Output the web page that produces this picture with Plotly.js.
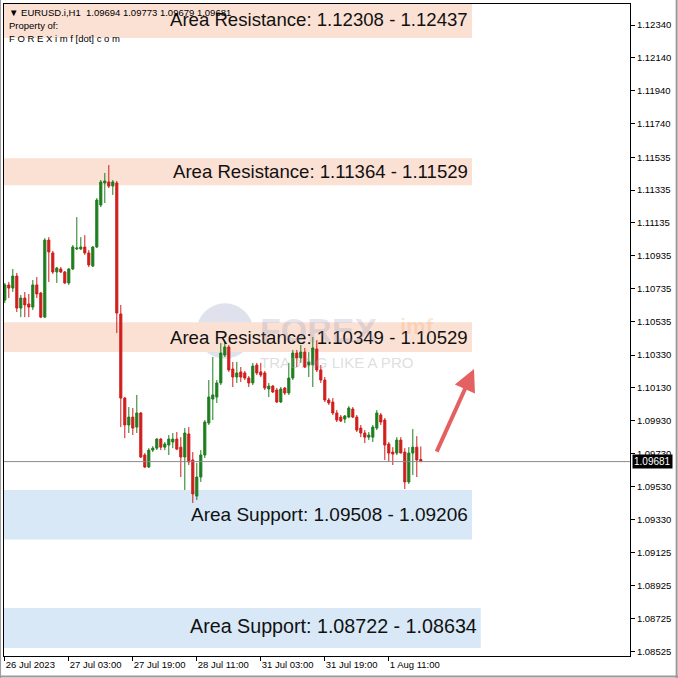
<!DOCTYPE html>
<html>
<head>
<meta charset="utf-8">
<script src="https://cdn.plot.ly/plotly-3.0.1.min.js"></script>
<style>
html,body{margin:0;padding:0;background:#fff;}
#chart{width:678px;height:678px;}
</style>
</head>
<body>
<div id="chart"></div>
<script>
// ---- data (EURUSD.i, H1) ----
const barIndex = Array.from({length: 105}, (_, i) => i);
const openP  = [1.10665,1.10757,1.10738,1.10811,1.10616,1.10677,1.10641,1.10622,1.10757,1.10708,
                1.10561,1.11030,1.10952,1.10836,1.10854,1.10836,1.10769,1.10854,1.10976,1.10976,
                1.10988,1.10952,1.10872,1.10988,1.11244,1.11378,1.11384,1.11359,1.11378,1.10580,
                1.10068,1.09904,1.09952,1.09891,1.09977,1.09721,1.09648,1.09751,1.09763,1.09818,
                1.09769,1.09782,1.09800,1.09818,1.09769,1.09709,1.09849,1.09691,1.09471,1.09587,
                1.09721,1.09916,1.10062,1.10074,1.10160,1.10330,1.10379,1.10245,1.10196,1.10227,
                1.10221,1.10190,1.10160,1.10269,1.10227,1.10221,1.10123,1.10141,1.10117,1.10044,
                1.10129,1.10099,1.10190,1.10343,1.10312,1.10348,1.10269,1.10269,1.10367,1.10239,
                1.10178,1.10056,1.10044,1.09977,1.09952,1.09940,1.09952,1.10001,1.09952,1.09885,
                1.09855,1.09830,1.09830,1.09885,1.09965,1.09934,1.09788,1.09739,1.09733,1.09812,
                1.09739,1.09557,1.09733,1.09769,1.09694];
const highP  = [1.10769,1.10775,1.10854,1.10830,1.10696,1.10714,1.10702,1.10787,1.10805,1.10714,
                1.11042,1.11048,1.10964,1.10866,1.10866,1.10842,1.10860,1.11000,1.11170,1.11048,
                1.11060,1.10970,1.10994,1.11286,1.11396,1.11439,1.11487,1.11396,1.11390,1.10635,
                1.10074,1.10013,1.10007,1.10087,1.09983,1.09733,1.09763,1.09775,1.09824,1.09824,
                1.09800,1.09843,1.09855,1.09861,1.09830,1.09885,1.09891,1.09739,1.09673,1.09751,
                1.09934,1.10178,1.10318,1.10178,1.10403,1.10409,1.10391,1.10288,1.10288,1.10257,
                1.10233,1.10202,1.10282,1.10282,1.10282,1.10233,1.10160,1.10147,1.10129,1.10135,
                1.10135,1.10282,1.10361,1.10361,1.10391,1.10373,1.10348,1.10440,1.10421,1.10269,
                1.10196,1.10068,1.10068,1.09995,1.09965,1.09965,1.10019,1.10013,1.09965,1.09904,
                1.09873,1.09861,1.09904,1.09995,1.09977,1.09946,1.09800,1.09769,1.09830,1.09830,
                1.09763,1.09769,1.09879,1.09836,1.09773];
const lowP   = [1.10647,1.10677,1.10714,1.10592,1.10561,1.10561,1.10561,1.10604,1.10677,1.10555,
                1.10555,1.10775,1.10824,1.10769,1.10830,1.10763,1.10757,1.10848,1.10970,1.10970,
                1.10940,1.10866,1.10866,1.10982,1.11231,1.11256,1.11347,1.11305,1.10464,1.09891,
                1.09824,1.09855,1.09843,1.09855,1.09703,1.09642,1.09642,1.09739,1.09751,1.09751,
                1.09751,1.09721,1.09763,1.09751,1.09587,1.09508,1.09660,1.09429,1.09447,1.09557,
                1.09703,1.09904,1.09934,1.10038,1.10147,1.10318,1.10227,1.10135,1.10160,1.10166,
                1.10178,1.10135,1.10147,1.10208,1.10196,1.10117,1.10074,1.10099,1.10038,1.10038,
                1.10087,1.10087,1.10178,1.10257,1.10282,1.10251,1.10196,1.10135,1.10227,1.10160,
                1.10044,1.10026,1.09965,1.09922,1.09922,1.09916,1.09946,1.09946,1.09861,1.09830,
                1.09794,1.09812,1.09800,1.09873,1.09904,1.09691,1.09679,1.09660,1.09721,1.09733,
                1.09514,1.09545,1.09599,1.09587,1.09679];
const closeP = [1.10757,1.10738,1.10811,1.10616,1.10677,1.10635,1.10622,1.10757,1.10702,1.10561,
                1.11030,1.10958,1.10836,1.10860,1.10836,1.10769,1.10854,1.10988,1.10982,1.10988,
                1.10952,1.10879,1.10988,1.11274,1.11384,1.11390,1.11359,1.11384,1.10586,1.10068,
                1.09904,1.09952,1.09885,1.09977,1.09709,1.09648,1.09751,1.09763,1.09818,1.09769,
                1.09788,1.09818,1.09818,1.09757,1.09709,1.09855,1.09679,1.09484,1.09587,1.09721,
                1.09922,1.10074,1.10087,1.10160,1.10342,1.10379,1.10239,1.10196,1.10221,1.10196,
                1.10190,1.10160,1.10263,1.10221,1.10208,1.10129,1.10141,1.10105,1.10044,1.10123,
                1.10099,1.10190,1.10343,1.10312,1.10348,1.10257,1.10288,1.10373,1.10239,1.10178,
                1.10056,1.10038,1.09977,1.09934,1.09928,1.09959,1.10007,1.09952,1.09873,1.09855,
                1.09830,1.09843,1.09891,1.09977,1.09922,1.09782,1.09733,1.09727,1.09812,1.09733,
                1.09557,1.09733,1.09769,1.09691,1.09681];

const xTickIndex = [0, 16, 32, 48, 64, 80, 96];
const xTickText  = ["26 Jul 2023","27 Jul 03:00","27 Jul 19:00","28 Jul 11:00","31 Jul 03:00","31 Jul 19:00","1 Aug 11:00"];
const yTickVals  = [1.12340,1.12140,1.11940,1.11740,1.11535,1.11335,1.11135,1.10935,1.10735,1.10535,
                    1.10330,1.10130,1.09930,1.09730,1.09530,1.09330,1.09125,1.08925,1.08725,1.08525];
const yTickText  = ["1.12340","1.12140","1.11940","1.11740","1.11535","1.11335","1.11135","1.10935","1.10735","1.10535",
                    "1.10330","1.10130","1.09930","1.09730","1.09530","1.09330","1.09125","1.08925","1.08725","1.08525"];

const zoneLabels = ["Area Resistance: 1.12308 - 1.12437","Area Resistance: 1.11364 - 1.11529","Area Resistance: 1.10349 - 1.10529","Area Support: 1.09508 - 1.09206","Area Support: 1.08722 - 1.08634"];
const zoneLow    = [1.12308, 1.11364, 1.10349, 1.09206, 1.08634];
const zoneHigh   = [1.12437, 1.11529, 1.10529, 1.09508, 1.08722];
const bandBottom = [1.12261, 1.11364, 1.10349, 1.09206, 1.08546];
const bandTop    = [1.12468, 1.11529, 1.10529, 1.09508, 1.08789];
const zoneType   = ["res","res","res","sup","sup"];
const bandEnd    = [116.8, 116.8, 116.8, 116.8, 119.0];

const lastPrice = 1.09681;
const headerText = "EURUSD.i,H1&nbsp;&nbsp;1.09694 1.09773 1.09679 1.09681";

// ---- styling ----
const FONT = "Liberation Sans, Arial, sans-serif";
const zoneFontSize = [18.6, 18.6, 18.6, 19.0, 19.7];
const resFill = "rgb(251,224,212)";
const supFill = "rgb(216,232,247)";
const shapes = [];
const annotations = [];
for (let k = 0; k < zoneLabels.length; k++) {
  shapes.push({type:"rect", layer:"below", xref:"x", x0:-1, x1:bandEnd[k], yref:"y", y0:bandBottom[k], y1:bandTop[k],
               line:{width:0}, fillcolor: zoneType[k]==="res" ? resFill : supFill});
  annotations.push({x: bandEnd[k] - 0.4, y: (zoneLow[k] + zoneHigh[k]) / 2, xref:"x", yref:"y",
                    text: zoneLabels[k], showarrow:false, xanchor:"right", yanchor:"middle",
                    font:{family:FONT, size:zoneFontSize[k], color:"#111"}});
}
// current price line
shapes.push({type:"line", xref:"paper", x0:0, x1:1, yref:"y", y0:lastPrice, y1:lastPrice,
             line:{color:"#8a8a8a", width:1}});
// watermark circle
shapes.push({type:"circle", layer:"below", xref:"paper", yref:"paper", x0:0.308, x1:0.398, y0:0.456, y1:0.541,
             fillcolor:"rgba(130,140,180,0.26)", line:{width:0}});
// outer window frame (right & bottom edges)
shapes.push({type:"line", xref:"paper", yref:"paper", x0:1.0745, x1:1.0745, y0:-0.04, y1:1.01,
             line:{color:"#9a9a9a", width:2}});
shapes.push({type:"line", xref:"paper", yref:"paper", x0:-0.01, x1:1.08, y0:-0.0315, y1:-0.0315,
             line:{color:"#9a9a9a", width:2}});
shapes.push({type:"line", xref:"paper", yref:"paper", x0:-0.0055, x1:-0.0055, y0:-0.04, y1:1.01,
             line:{color:"#9a9a9a", width:1}});

annotations.push({xref:"paper", yref:"paper", x:0.405, y:0.50, xanchor:"left", yanchor:"middle", showarrow:false,
                  text:"<b>FOREX</b>", font:{family:FONT, size:34, color:"rgba(130,140,185,0.22)"}});
annotations.push({xref:"paper", yref:"paper", x:0.630, y:0.505, xanchor:"left", yanchor:"middle", showarrow:false,
                  text:"<b>imf</b>", font:{family:FONT, size:22, color:"rgba(240,160,90,0.25)"}});
annotations.push({xref:"paper", yref:"paper", x:0.405, y:0.45, xanchor:"left", yanchor:"middle", showarrow:false,
                  text:"TRADING LIKE A PRO", font:{family:FONT, size:15, color:"rgba(170,170,175,0.4)"}});

// header texts
annotations.push({xref:"paper", yref:"paper", x:0.0, y:1.0, xanchor:"left", yanchor:"top", showarrow:false, align:"left",
                  xshift:3, yshift:-1,
                  text:"▼ " + headerText, font:{family:FONT, size:9.5, color:"#000"}});
annotations.push({xref:"paper", yref:"paper", x:0.0, y:1.0, xanchor:"left", yanchor:"top", showarrow:false, align:"left",
                  xshift:3, yshift:-14,
                  text:"Property of:", font:{family:FONT, size:9.5, color:"#000"}});
annotations.push({xref:"paper", yref:"paper", x:0.0, y:1.0, xanchor:"left", yanchor:"top", showarrow:false, align:"left",
                  xshift:3, yshift:-27,
                  text:"F O R E X i m f [dot] c o m", font:{family:FONT, size:9.5, color:"#000"}});

// last price tag
annotations.push({xref:"paper", yref:"y", x:1, y:lastPrice, xanchor:"left", yanchor:"middle", showarrow:false,
                  xshift:2, text:lastPrice.toFixed(5), bgcolor:"#000", borderpad:1,
                  font:{family:FONT, size:10, color:"#fff"}});

// arrow
annotations.push({xref:"x", yref:"y", axref:"x", ayref:"y", x:117.3, y:1.10245, ax:107.8, ay:1.09733,
                  showarrow:true, arrowhead:2, arrowsize:1.1, arrowwidth:4, arrowcolor:"rgba(225,70,70,0.85)", text:""});

const trace = {
  type:"candlestick", x: barIndex, open: openP, high: highP, low: lowP, close: closeP,
  increasing:{line:{color:"#1e7d1e", width:1}, fillcolor:"#1e7d1e"},
  decreasing:{line:{color:"#d01c1c", width:1}, fillcolor:"#d01c1c"},
  whiskerwidth:0, hoverinfo:"skip", showlegend:false
};

const layout = {
  width:678, height:678,
  margin:{l:4, r:48, t:4, b:22, pad:0},
  paper_bgcolor:"#fff", plot_bgcolor:"#fff",
  boxgap:0.25,
  showlegend:false,
  xaxis:{range:[-0.2, 156.3], rangeslider:{visible:false}, showgrid:false, zeroline:false,
         showline:true, linecolor:"#000", linewidth:1, mirror:true,
         tickmode:"array", tickvals:xTickIndex, ticktext:xTickText, ticks:"outside", ticklen:4, tickcolor:"#000",
         ticklabelposition:"outside right",
         tickfont:{family:FONT, size:9.5, color:"#000"}},
  yaxis:{range:[1.08497, 1.12468], side:"right", showgrid:false, zeroline:false,
         showline:true, linecolor:"#000", linewidth:1, mirror:true,
         tickmode:"array", tickvals:yTickVals, ticktext:yTickText, ticks:"outside", ticklen:4, tickcolor:"#000",
         tickfont:{family:FONT, size:9.5, color:"#000"}},
  shapes: shapes,
  annotations: annotations
};

Plotly.newPlot("chart", [trace], layout, {staticPlot:true, displayModeBar:false});
</script>
</body>
</html>
